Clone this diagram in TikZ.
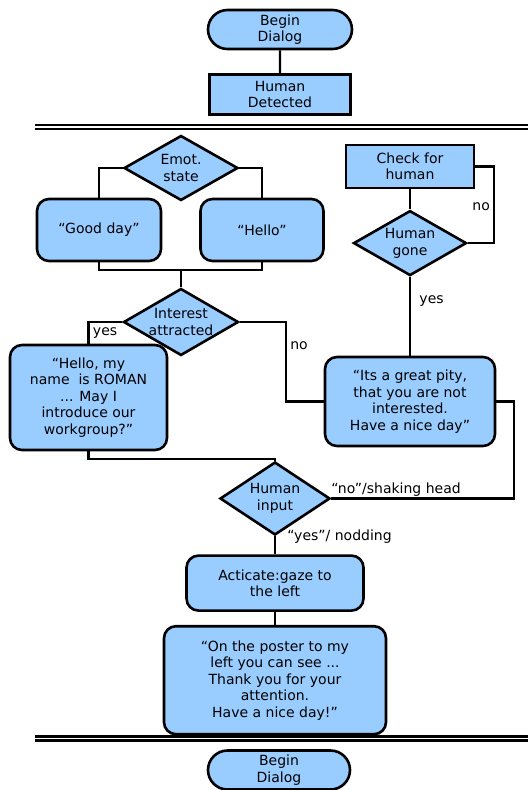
\documentclass[tikz,border=0pt]{standalone}
\usepackage{fontspec}
\setmainfont{DejaVu Sans}
\usepackage{xcolor}
\usetikzlibrary{positioning,shapes.geometric,shapes.misc}
\definecolor{boxblue}{HTML}{99CCFF}

\begin{document}
\begin{tikzpicture}[
		x=1pt, y=-1pt,
		every node/.style={
			align=center,
			font=\fontsize{14}{16.5}\selectfont
		},
		shapebase/.style={draw, line width=2.6pt, fill=boxblue, inner sep=0pt},
		terminal/.style={shapebase, rounded rectangle, minimum width=144pt, minimum height=39pt},
		stepbox/.style={shapebase, rectangle},
		saybox/.style={shapebase, rectangle, rounded corners=12pt},
		choice/.style={shapebase, diamond, aspect=1.7},
		link/.style={line width=2.3pt},
		separator/.style={line width=2.3pt, double, double distance=1.6pt}
		]
		
		\useasboundingbox (0,0) rectangle (528,790);
		
		\node[terminal] (start) at (280,29.5) {Begin\\Dialog};
		
		\node[stepbox, minimum width=141pt, minimum height=40pt, below=23pt of start] (detected)
		{Human\\Detected};
		
		\draw[separator] (35,127) -- (528,127);
		
		\node[choice, minimum width=114pt, minimum height=65pt] (emot) at (181,168) {Emot.\\state};
		
		\node[saybox, minimum width=124pt, minimum height=62pt] (goodday) at (99,230) {“Good day”};
		
		\node[saybox, minimum width=123pt, minimum height=62pt] (hello) at (262,230) {“Hello”};
		
		\node[choice, minimum width=115pt, minimum height=67pt] (interest) at (181,322)
		{Interest\\attracted};
		
		\node[saybox, minimum width=157pt, minimum height=105pt] (intro) at (88.5,397.5)
		{“Hello, my\\name~ is ROMAN\\... May I\\introduce our\\workgroup?”};
		
		\node[stepbox, minimum width=128pt, minimum height=43pt] (check) at (410,166.5)
		{Check for\\human};
		
		\node[choice, minimum width=113pt, minimum height=65pt, below=20pt of check] (gone)
		{Human\\gone};
		
		\node[saybox, minimum width=170pt, minimum height=89pt] (pity) at (410,401.5)
		{“Its a great pity,\\that you are not\\interested.\\Have a nice day”};
		
		\node[choice, aspect=1.5, minimum width=110pt, minimum height=73pt] (input) at (275,498.5)
		{Human\\input};
		
		\node[saybox, minimum width=177pt, minimum height=55pt, below=18pt of input] (gaze)
		{Acticate:gaze to\\the left};
		
		\node[saybox, minimum width=222pt, minimum height=108pt, below=13pt of gaze] (poster)
		{“On the poster to my\\left you can see ...\\Thank you for your\\attention.\\Have a nice day!”};
		
		\draw[separator] (35,738.5) -- (528,738.5);
		
		\node[terminal, minimum width=142pt] (restart) at (279,770) {Begin\\Dialog};
		
		\coordinate (merge) at (181,270);
		
		\draw[link] (start)--(detected);
		\draw[link] (emot.west) -| (goodday.north);
		\draw[link] (emot.east) -| (hello.north);
		\draw[link] (goodday.south) |- (merge) -| (hello.south);
		\draw[link] (merge)--(interest.north);
		\draw[link] (interest.west) -| node[pos=0.75, right]{yes} (intro.north);
		\draw[link] (interest.east) -- ++(46,0) |- node[pos=0.15, right]{no} (pity.west);
		\draw[link] (check)--(gone);
		\draw[link] (check.east) -- ++(19,0) |- node[pos=0.26, left]{no} (gone.east);
		\draw[link] (gone) -- node[pos=0.3, right, xshift=5pt]{yes} (pity);
		\draw[link] (intro.south) -- ++(0,8) -| (input.north);
		\draw[link] (input.east) -- node[at start, anchor=south west, inner sep=1pt, xshift=-2pt]{“no”/shaking head}
		++(183,0) |- (pity.east);
		\draw[link] (input.south) -- node[at start, anchor=west, xshift=8pt]{“yes”/ nodding} (gaze.north);
		\draw[link] (gaze)--(poster);
		
	\end{tikzpicture}
\end{document}
